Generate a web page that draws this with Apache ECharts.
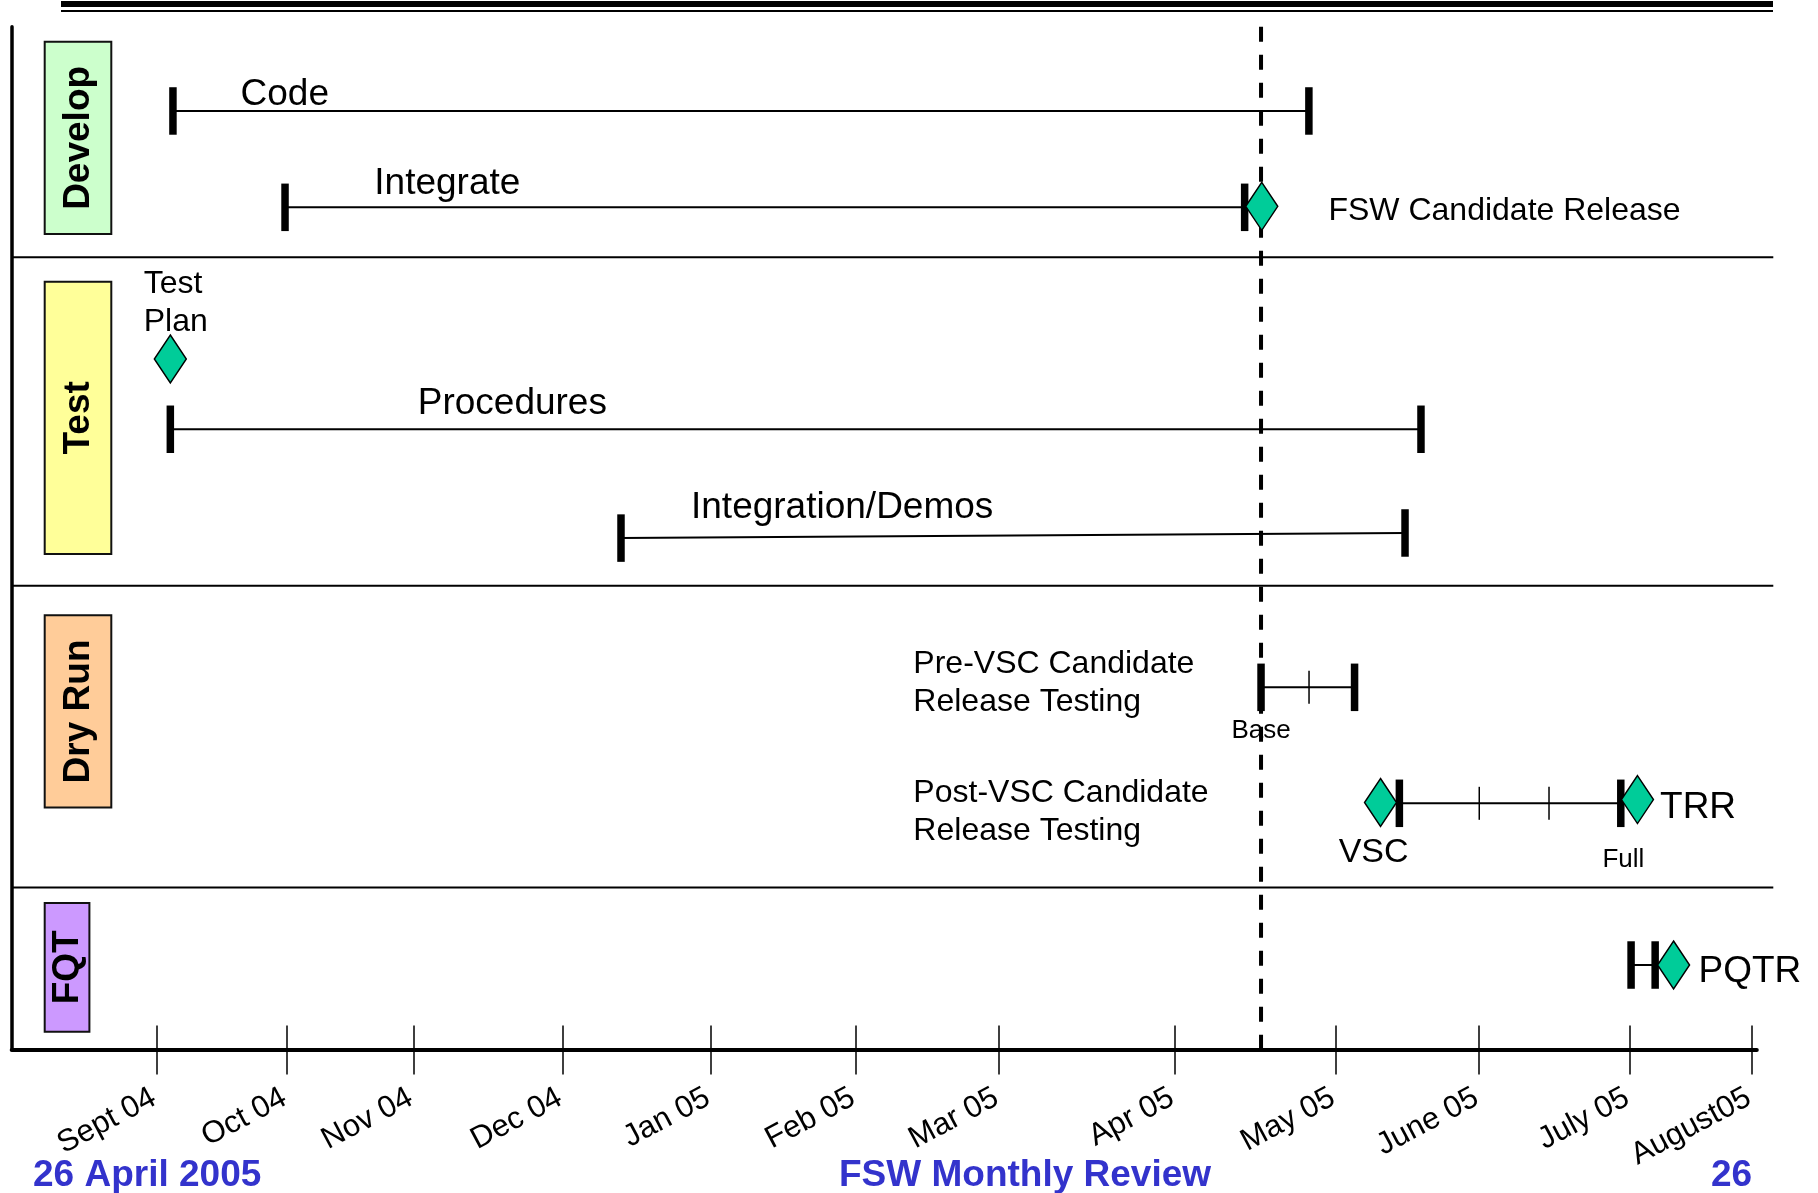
<!DOCTYPE html>
<html>
<head>
<meta charset="utf-8">
<script src="https://cdn.jsdelivr.net/npm/echarts@6/dist/echarts.min.js"></script>
<style>
html,body{margin:0;padding:0;background:#fff;}
#chart{width:1818px;height:1193px;}
</style>
</head>
<body>
<div id="chart"></div>
<script>
// ---------------- DATA ----------------
// x unit: months after Sept 04 as placed on the slide's time axis
const monthLabels = ['Sept 04','Oct 04','Nov 04','Dec 04','Jan 05','Feb 05','Mar 05','Apr 05','May 05','June 05','July 05','August05'];
const monthTickAt = [0, 0.90, 1.77, 2.80, 3.82, 4.82, 5.81, 7.02, 8.13, 9.12, 10.16, 11];

// y unit: lanes (0 = top of chart area, 10 = time axis)
const phaseNames  = ['Develop', 'Test', 'Dry Run', 'FQT'];
const phaseTop    = [0.147, 2.493, 5.755, 8.568];
const phaseBottom = [2.027, 5.155, 7.635, 9.826];
const laneBreaks  = [2.255, 5.465, 8.416];

const taskNames = ['Code', 'Integrate', 'Procedures', 'Integration/Demos',
  'Pre-VSC Candidate\nRelease Testing', 'Post-VSC Candidate\nRelease Testing', 'FQT'];
const taskStart     = [0.112, 0.885, 0.094, 3.202, 7.616, 8.570, 10.168];
const taskEnd       = [7.946, 7.503, 8.719, 8.609, 8.261, 10.097, 10.334];
const taskLaneStart = [0.824, 1.766, 3.936, 5.000, 6.459, 7.593, 9.174];
const taskLaneEnd   = [0.824, 1.766, 3.936, 4.950, 6.459, 7.593, 9.174];
const taskCheckpoints = [[], [], [], [], [7.947], [9.121, 9.602], []];
const taskStartNote = ['', '', '', '', 'Base', '', ''];
const taskEndNote   = ['', '', '', '', '', 'Full', ''];

const milestoneNames = ['FSW Candidate Release', 'Test\nPlan', 'VSC', 'TRR', 'PQTR'];
const milestoneAt    = [7.621, 0.094, 8.440, 10.212, 10.461];
const milestoneLane  = [1.756, 3.249, 7.585, 7.556, 9.174];

const statusDate = 7.616; // 26 April 2005 status line

const footerTexts = ['26 April 2005', 'FSW Monthly Review', '26'];

// ---------------- STYLE / LAYOUT ----------------
const FONT = '"Liberation Sans", Arial, Helvetica, sans-serif';
const X_MIN = -1, X_MAX = 11.035;
const CAP_W = 7.5, CAP_H = 47.5, CHECK_H = 33;
const TXT_SHIFT = 3;
const phaseColors = ['#ccffcc', '#ffff99', '#ffcc99', '#cc99ff'];
const phaseBoxWidth = [66.6, 66.6, 66.6, 44.7];
const taskLabelLayout = {
  'Code': {dx: 67.6, dy: -19.2, size: 37},
  'Integrate': {dx: 89.3, dy: -26.2, size: 37},
  'Procedures': {dx: 247.4, dy: -28.2, size: 37},
  'Integration/Demos': {dx: 70, dy: -33.5, size: 37},
  'Pre-VSC Candidate\nRelease Testing': {dx: -347.7, dy: -6.8, size: 32, lh: 38},
  'Post-VSC Candidate\nRelease Testing': {dx: -486, dy: 5.6, size: 32, lh: 38}
};
const noteLayout = {'Base': {dx: 0, dy: 41, size: 26}, 'Full': {dx: 2.6, dy: 54, size: 26}};
const milestoneLabelLayout = {
  'FSW Candidate Release': {dx: 67.3, dy: 3.1, size: 32, align: 'left'},
  'Test\nPlan': {dx: -26, dy: -58, size: 32, align: 'left', lh: 38},
  'VSC': {dx: -6.3, dy: 48, size: 34, align: 'center'},
  'TRR': {dx: 23.2, dy: 6.6, size: 37, align: 'left'},
  'PQTR': {dx: 25.5, dy: 4.5, size: 37, align: 'left'}
};

function nearestMonth(v) {
  let best = 0;
  monthTickAt.forEach((t, i) => { if (Math.abs(t - v) < Math.abs(monthTickAt[best] - v)) best = i; });
  return monthLabels[best];
}

const chart = echarts.init(document.getElementById('chart'), null, {renderer: 'canvas'});
const footStyle = {fontSize: 37, fontWeight: 'bold', color: '#3333cc', fontFamily: FONT};

const option = {
  animation: false,
  backgroundColor: '#fff',
  textStyle: {fontFamily: FONT},
  title: [
    {text: footerTexts[0], left: 33, top: 1157, padding: 0, textStyle: footStyle},
    {text: footerTexts[1], left: 839, top: 1157, padding: 0, textStyle: footStyle},
    {text: footerTexts[2], left: 1711, top: 1157, padding: 0, textStyle: footStyle}
  ],
  graphic: [
    {type: 'rect', left: 61, top: 1, shape: {width: 1712, height: 6}, style: {fill: '#000'}},
    {type: 'rect', left: 61, top: 10, shape: {width: 1712, height: 2}, style: {fill: '#000'}}
  ],
  grid: {left: 11.7, top: 26.7, width: 1745.1, height: 1022.8, containLabel: false},
  xAxis: [
    {
      type: 'value', min: X_MIN, max: X_MAX, position: 'bottom',
      axisLine: {show: true, onZero: false, lineStyle: {color: '#000', width: 4}},
      splitLine: {show: false},
      axisTick: {show: true, customValues: monthTickAt, inside: false, length: 25,
                 lineStyle: {color: '#000', width: 1.5}},
      axisLabel: {show: true, customValues: monthTickAt, rotate: 28, margin: 45,
                  fontSize: 31, color: '#000', fontFamily: FONT, padding: [0, 3, 0, 0],
                  formatter: (v) => nearestMonth(v)}
    },
    {
      type: 'value', min: X_MIN, max: X_MAX, position: 'bottom',
      axisLine: {show: false, onZero: false},
      splitLine: {show: false},
      axisTick: {show: true, customValues: monthTickAt, inside: true, length: 24,
                 lineStyle: {color: '#000', width: 1.5}},
      axisLabel: {show: false}
    }
  ],
  yAxis: {
    type: 'value', min: 0, max: 10, inverse: true,
    axisLine: {show: true, onZero: false, lineStyle: {color: '#000', width: 3.5}},
    axisTick: {show: false}, axisLabel: {show: false}, splitLine: {show: false}
  },
  series: [
    // lane separators
    {
      type: 'custom', silent: true, z: 1, clip: false,
      data: laneBreaks.map(v => [X_MIN, v]),
      encode: {x: 0, y: 1},
      renderItem(params, api) {
        const p = api.coord([api.value(0), api.value(1)]);
        const cs = params.coordSys;
        return {type: 'line', shape: {x1: cs.x, y1: p[1], x2: cs.x + cs.width + 16.5, y2: p[1]},
                style: {stroke: '#000', lineWidth: 2}};
      }
    },
    // phase boxes
    {
      type: 'custom', silent: true, z: 2, clip: false,
      data: phaseNames.map((n, i) => [X_MIN, phaseTop[i], phaseBottom[i], i]),
      encode: {x: 0, y: [1, 2]},
      renderItem(params, api) {
        const i = api.value(3);
        const p0 = api.coord([api.value(0), api.value(1)]);
        const p1 = api.coord([api.value(0), api.value(2)]);
        const x = params.coordSys.x + 33;
        const w = phaseBoxWidth[i];
        return {type: 'group', children: [
          {type: 'rect', shape: {x: x, y: p0[1], width: w, height: p1[1] - p0[1]},
           style: {fill: phaseColors[i], stroke: '#111', lineWidth: 2}},
          {type: 'text', x: x + w / 2 + 1, y: (p0[1] + p1[1]) / 2, rotation: Math.PI / 2,
           style: {text: phaseNames[i], fill: '#000', fontSize: 37, fontWeight: 'bold',
                   fontFamily: FONT, align: 'center', verticalAlign: 'middle'}}
        ]};
      }
    },
    // status (today) line
    {
      type: 'custom', silent: true, z: 3, clip: false,
      data: [[statusDate, 0, 10]],
      encode: {x: 0, y: [1, 2]},
      renderItem(params, api) {
        const p0 = api.coord([api.value(0), api.value(1)]);
        const p1 = api.coord([api.value(0), api.value(2)]);
        return {type: 'line', shape: {x1: p0[0], y1: p0[1], x2: p1[0], y2: p1[1]},
                style: {stroke: '#000', lineWidth: 4, lineDash: [15, 13]}};
      }
    },
    // tasks
    {
      type: 'custom', silent: true, z: 4, clip: false,
      data: taskNames.map((n, i) => [taskStart[i], taskEnd[i], taskLaneStart[i], taskLaneEnd[i], i]),
      encode: {x: [0, 1], y: [2, 3]},
      renderItem(params, api) {
        const i = api.value(4);
        const p0 = api.coord([api.value(0), api.value(2)]);
        const p1 = api.coord([api.value(1), api.value(3)]);
        const ch = [
          {type: 'line', shape: {x1: p0[0], y1: p0[1], x2: p1[0], y2: p1[1]},
           style: {stroke: '#000', lineWidth: 2}},
          {type: 'rect', shape: {x: p0[0] - CAP_W / 2, y: p0[1] - CAP_H / 2, width: CAP_W, height: CAP_H},
           style: {fill: '#000'}},
          {type: 'rect', shape: {x: p1[0] - CAP_W / 2, y: p1[1] - CAP_H / 2, width: CAP_W, height: CAP_H},
           style: {fill: '#000'}}
        ];
        taskCheckpoints[i].forEach(c => {
          const pc = api.coord([c, api.value(2)]);
          ch.push({type: 'line', shape: {x1: pc[0], y1: pc[1] - CHECK_H / 2, x2: pc[0], y2: pc[1] + CHECK_H / 2},
                   style: {stroke: '#000', lineWidth: 1.5}});
        });
        const lay = taskLabelLayout[taskNames[i]];
        if (lay) {
          ch.push({type: 'text', x: p0[0] + lay.dx, y: p0[1] + lay.dy + TXT_SHIFT,
                   style: {text: taskNames[i], fill: '#000', fontSize: lay.size, fontFamily: FONT,
                           lineHeight: lay.lh || lay.size, align: 'left', verticalAlign: 'middle'}});
        }
        if (taskStartNote[i]) {
          const nl = noteLayout[taskStartNote[i]];
          ch.push({type: 'text', x: p0[0] + nl.dx, y: p0[1] + nl.dy + TXT_SHIFT,
                   style: {text: taskStartNote[i], fill: '#000', fontSize: nl.size, fontFamily: FONT,
                           align: 'center', verticalAlign: 'middle'}});
        }
        if (taskEndNote[i]) {
          const nl = noteLayout[taskEndNote[i]];
          ch.push({type: 'text', x: p1[0] + nl.dx, y: p1[1] + nl.dy + TXT_SHIFT,
                   style: {text: taskEndNote[i], fill: '#000', fontSize: nl.size, fontFamily: FONT,
                           align: 'center', verticalAlign: 'middle'}});
        }
        return {type: 'group', children: ch};
      }
    },
    // milestones
    {
      type: 'scatter', silent: true, z: 6,
      symbol: 'diamond', symbolSize: [32, 48],
      itemStyle: {color: '#00cc99', borderColor: '#000', borderWidth: 1.5, opacity: 1},
      emphasis: {disabled: true},
      data: milestoneNames.map((n, i) => {
        const l = milestoneLabelLayout[n];
        return {
          name: n, value: [milestoneAt[i], milestoneLane[i]],
          label: {show: true, formatter: '{b}', position: [16 + l.dx, 24 + l.dy + TXT_SHIFT],
                  align: l.align, verticalAlign: 'middle', fontSize: l.size,
                  lineHeight: l.lh || l.size, color: '#000', fontFamily: FONT}
        };
      })
    }
  ]
};

chart.setOption(option);
</script>
</body>
</html>
